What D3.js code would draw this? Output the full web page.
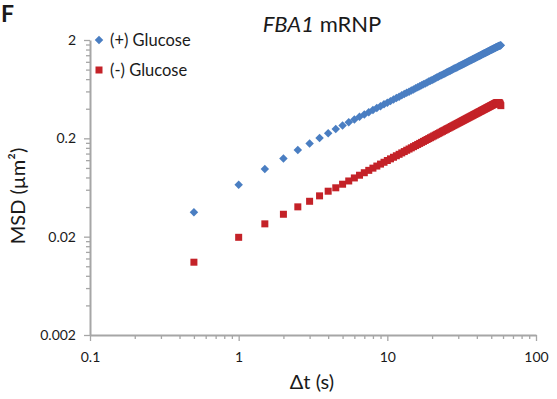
<!DOCTYPE html>
<html>
<head>
<meta charset="utf-8">
<script src="https://cdn.jsdelivr.net/npm/d3@7"></script>
<style>
  html, body { margin: 0; padding: 0; background: #fff; }
  svg { display: block; }
  text { font-family: Lato, "Open Sans", sans-serif; fill: #1a1a1a; }
</style>
</head>
<body>
<svg id="chart" width="557" height="399"></svg>
<script>
// ---- data ----
const timeLags = [
  0.5, 1, 1.5, 2, 2.5, 3, 3.5, 4, 4.5, 5,
  5.5, 6, 6.5, 7, 7.5, 8, 8.5, 9, 9.5, 10,
  10.5, 11, 11.5, 12, 12.5, 13, 13.5, 14, 14.5, 15,
  15.5, 16, 16.5, 17, 17.5, 18, 18.5, 19, 19.5, 20,
  20.5, 21, 21.5, 22, 22.5, 23, 23.5, 24, 24.5, 25,
  25.5, 26, 26.5, 27, 27.5, 28, 28.5, 29, 29.5, 30,
  30.5, 31, 31.5, 32, 32.5, 33, 33.5, 34, 34.5, 35,
  35.5, 36, 36.5, 37, 37.5, 38, 38.5, 39, 39.5, 40,
  40.5, 41, 41.5, 42, 42.5, 43, 43.5, 44, 44.5, 45,
  45.5, 46, 46.5, 47, 47.5, 48, 48.5, 49, 49.5, 50,
  50.5, 51, 51.5, 52, 52.5, 53, 53.5, 54, 54.5, 55,
  55.5, 56, 56.5, 57, 57.5, 58
];
const msdPlusGlucose = [
  0.0354, 0.0675, 0.0973, 0.125, 0.152, 0.177, 0.201, 0.225, 0.249, 0.270,
  0.291, 0.311, 0.331, 0.350, 0.369, 0.388, 0.406, 0.425, 0.443, 0.461,
  0.478, 0.496, 0.513, 0.530, 0.547, 0.564, 0.580, 0.597, 0.613, 0.629,
  0.645, 0.661, 0.677, 0.693, 0.709, 0.724, 0.740, 0.755, 0.770, 0.785,
  0.800, 0.815, 0.830, 0.845, 0.860, 0.874, 0.889, 0.904, 0.918, 0.933,
  0.947, 0.961, 0.975, 0.989, 1.003, 1.018, 1.031, 1.045, 1.059, 1.073,
  1.087, 1.100, 1.114, 1.128, 1.141, 1.155, 1.168, 1.182, 1.195, 1.208,
  1.221, 1.235, 1.248, 1.261, 1.274, 1.287, 1.300, 1.313, 1.326, 1.339,
  1.352, 1.365, 1.378, 1.390, 1.403, 1.416, 1.429, 1.441, 1.454, 1.466,
  1.479, 1.491, 1.504, 1.516, 1.528, 1.541, 1.553, 1.566, 1.578, 1.590,
  1.602, 1.615, 1.627, 1.639, 1.651, 1.663, 1.675, 1.687, 1.699, 1.711,
  1.722, 1.733, 1.743, 1.752, 1.759, 1.764
];
const msdMinusGlucose = [
  0.0110, 0.0197, 0.0270, 0.0338, 0.0402, 0.0458, 0.0520, 0.0580, 0.0628, 0.0683,
  0.0737, 0.0791, 0.0843, 0.0894, 0.0945, 0.0995, 0.1045, 0.1094, 0.1142, 0.1190,
  0.1237, 0.1284, 0.1330, 0.1376, 0.1422, 0.1467, 0.1513, 0.1557, 0.1601, 0.1646,
  0.1689, 0.1733, 0.1776, 0.1819, 0.1861, 0.1904, 0.1946, 0.1988, 0.2030, 0.2071,
  0.2113, 0.2154, 0.2195, 0.2235, 0.2276, 0.2316, 0.2357, 0.2397, 0.2437, 0.2476,
  0.2516, 0.2555, 0.2594, 0.2633, 0.2672, 0.2711, 0.2750, 0.2788, 0.2827, 0.2865,
  0.2903, 0.2941, 0.2979, 0.3017, 0.3054, 0.3092, 0.3129, 0.3167, 0.3204, 0.3241,
  0.3278, 0.3315, 0.3351, 0.3388, 0.3425, 0.3461, 0.3498, 0.3534, 0.3570, 0.3606,
  0.3642, 0.3679, 0.3714, 0.3750, 0.3786, 0.3821, 0.3857, 0.3892, 0.3927, 0.3963,
  0.3998, 0.4033, 0.4068, 0.4103, 0.4138, 0.4173, 0.4208, 0.4242, 0.4277, 0.4311,
  0.4346, 0.4380, 0.4414, 0.4449, 0.4483, 0.4517, 0.4551, 0.4585, 0.4605, 0.4620,
  0.4628, 0.4630, 0.4610, 0.4560, 0.4450, 0.4300
];
const seriesNames = ["(+) Glucose", "(-) Glucose"];
const xTickValues = [0.1, 1, 10, 100];
const xTickLabels = ["0.1", "1", "10", "100"];
const yTickValues = [0.002, 0.02, 0.2, 2];
const yTickLabels = ["0.002", "0.02", "0.2", "2"];
const panelLetter = "F";
const titleGene = "FBA1";
const titleRest = " mRNP";
const xTitle = "\u0394t (s)";
const yTitle = "MSD (\u00b5m\u00b2)";

// ---- layout ----
const blue = "#4a7ec2";
const red = "#c42228";
const axisColor = "#a6a6a6";
const svg = d3.select("#chart");

const x = d3.scaleLog().domain([0.1, 100]).range([90, 536]);
const y = d3.scaleLog().domain([0.002, 2]).range([335, 40]);

function minorTicks(lo, hi) {
  const out = [];
  for (let d = lo; d < hi; d *= 10) {
    for (let k = 2; k <= 9; k++) out.push(+(d * k).toPrecision(6));
  }
  return out;
}

// minor ticks
svg.append("g")
  .attr("transform", "translate(0,335)")
  .call(d3.axisBottom(x).tickValues(minorTicks(0.1, 100)).tickSize(4).tickFormat(""))
  .call(g => g.select(".domain").remove());
svg.append("g")
  .attr("transform", "translate(90,0)")
  .call(d3.axisLeft(y).tickValues(minorTicks(0.002, 2)).tickSize(4).tickFormat(""))
  .call(g => g.select(".domain").remove());

// major axes
svg.append("g")
  .attr("transform", "translate(0,335)")
  .call(d3.axisBottom(x).tickValues(xTickValues).tickSize(6).tickSizeOuter(0).tickPadding(11)
    .tickFormat((d, i) => xTickLabels[i]));
svg.append("g")
  .attr("transform", "translate(90,0)")
  .call(d3.axisLeft(y).tickValues(yTickValues).tickSize(6).tickSizeOuter(0).tickPadding(8)
    .tickFormat((d, i) => yTickLabels[i]));

svg.selectAll(".tick line").attr("stroke", axisColor).attr("stroke-width", 1.3);
svg.selectAll(".domain").attr("stroke", axisColor).attr("stroke-width", 2);
svg.selectAll(".tick text")
  .attr("font-family", "Lato, sans-serif").attr("font-size", 14).attr("fill", "#1a1a1a");

// data
const diamond = d3.symbol().type(d3.symbolDiamond2).size(46);
svg.append("g").selectAll("path")
  .data(timeLags.map((t, i) => [t, msdPlusGlucose[i]]))
  .join("path")
  .attr("d", diamond)
  .attr("transform", d => `translate(${x(d[0])},${y(d[1])})`)
  .attr("fill", blue);

svg.append("g").selectAll("rect")
  .data(timeLags.map((t, i) => [t, msdMinusGlucose[i]]))
  .join("rect")
  .attr("x", d => x(d[0]) - 3.5)
  .attr("y", d => y(d[1]) - 3.5)
  .attr("width", 7).attr("height", 7)
  .attr("fill", red);

// legend
const lg = svg.append("g");
lg.append("path").attr("d", diamond).attr("transform", "translate(99,40)").attr("fill", blue);
lg.append("text").attr("x", 110).attr("y", 40).attr("dy", "0.35em")
  .attr("font-size", 16.5).text(seriesNames[0]);
lg.append("rect").attr("x", 95.5).attr("y", 66.5).attr("width", 7).attr("height", 7).attr("fill", red);
lg.append("text").attr("x", 110).attr("y", 70).attr("dy", "0.35em")
  .attr("font-size", 16.5).text(seriesNames[1]);

// titles
svg.append("text").attr("x", 1).attr("y", 22)
  .attr("font-family", "'Liberation Sans', Arial, sans-serif").attr("font-weight", "bold")
  .attr("font-size", 23).attr("fill", "#000").text(panelLetter);

const t = svg.append("text").attr("x", 322).attr("y", 32).attr("text-anchor", "middle")
  .attr("font-size", 22);
t.append("tspan").attr("font-style", "italic").text(titleGene);
t.append("tspan").text(titleRest);

svg.append("text").attr("x", 312).attr("y", 389).attr("text-anchor", "middle")
  .attr("font-size", 20).text(xTitle);

svg.append("text").attr("transform", "translate(25,196) rotate(-90)")
  .attr("text-anchor", "middle").attr("font-size", 20).text(yTitle);
</script>
</body>
</html>
